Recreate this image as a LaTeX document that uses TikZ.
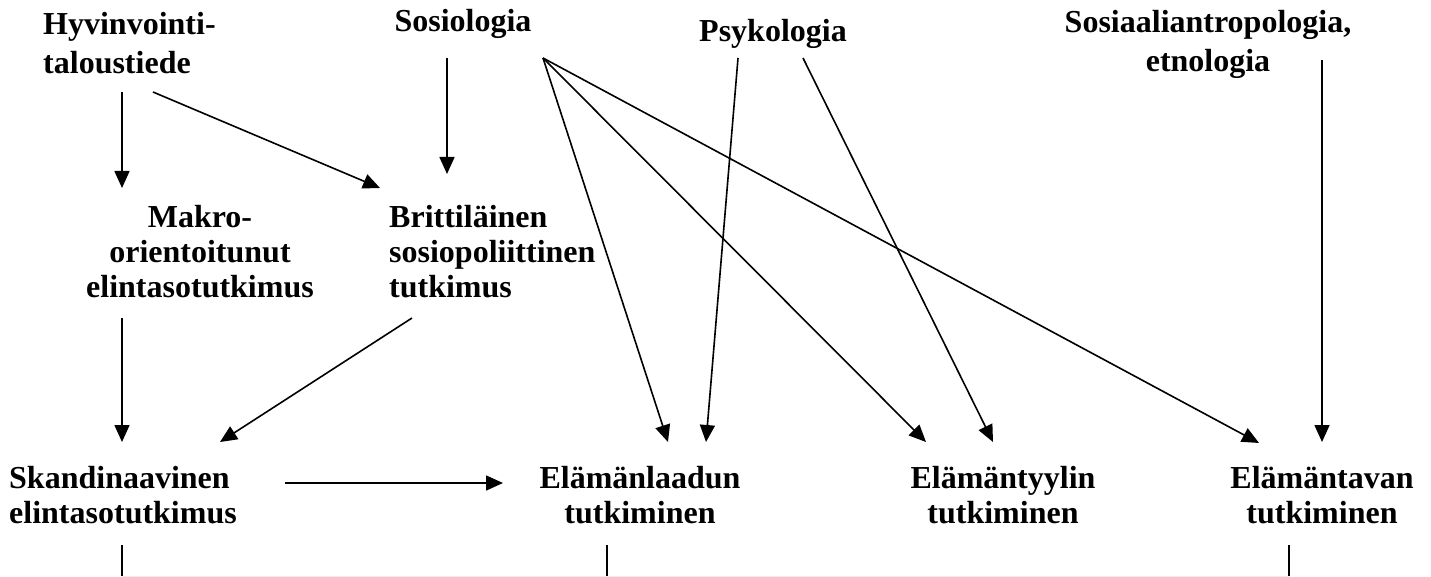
\documentclass[tikz,border=0pt]{standalone}
\usepackage{fontspec}
\setmainfont{Liberation Serif}
\usetikzlibrary{arrows.meta}
\begin{document}
\begin{tikzpicture}[x=1pt,y=-1pt,
  lbl/.style={font=\fontsize{32}{35}\selectfont\bfseries, inner sep=0pt, align=center},
  lbll/.style={lbl, align=left},
  arr/.style={line width=1.6pt, -{Triangle[length=17pt,width=15pt]}},
  ln/.style={line width=1.6pt}]
\useasboundingbox[fill=white] (0,0) rectangle (1431,577);
% nodes
\node[lbll, anchor=west] (hyv) at (43,43) {Hyvinvointi-\\[4pt]taloustiede};
\node[lbl] (sos) at (463,24) {Sosiologia};
\node[lbl] (psy) at (773,34) {Psykologia};
\node[lbl] (ant) at (1208,44) {Sosiaaliantropologia,\\[4pt]etnologia};
\node[lbl] (mak) at (200,252) {Makro-\\orientoitunut\\elintasotutkimus};
\node[lbll, anchor=west] (bri) at (389,252) {Brittiläinen\\sosiopoliittinen\\tutkimus};
\node[lbll, anchor=west] (ska) at (9,495) {Skandinaavinen\\elintasotutkimus};
\node[lbl] (ela) at (640,495) {Elämänlaadun\\tutkiminen};
\node[lbl] (ety) at (1003,495) {Elämäntyylin\\tutkiminen};
\node[lbl] (eta) at (1322,495) {Elämäntavan\\tutkiminen};
% connector end points
\coordinate (hyvA) at (122,92);  \coordinate (makT) at (122,188);
\coordinate (hyvB) at (153,92);  \coordinate (briT) at (380,188);
\coordinate (sosA) at (447,58);  \coordinate (briU) at (447,174);
\coordinate (sosB) at (543,58);
\coordinate (elaT) at (668,442); \coordinate (etyT) at (926,442); \coordinate (etaT) at (1259,443);
\coordinate (psyA) at (738,58);  \coordinate (elaU) at (706,442);
\coordinate (psyB) at (803,58);  \coordinate (etyU) at (993,442);
\coordinate (antA) at (1322,60); \coordinate (etaU) at (1322,442);
\coordinate (makA) at (122,318); \coordinate (skaT) at (122,442);
\coordinate (briA) at (412,318); \coordinate (skaU) at (220,442);
\coordinate (skaR) at (285,483); \coordinate (elaL) at (503,483);
\coordinate (skaB) at (122,545); \coordinate (skaE) at (122,576);
\coordinate (elaB) at (607,545); \coordinate (elaE) at (607,576);
\coordinate (etaB) at (1289,545); \coordinate (etaE) at (1289,576);
% connectors
\draw[arr] (hyvA) -- (makT);
\draw[arr] (hyvB) -- (briT);
\draw[arr] (sosA) -- (briU);
\draw[arr] (sosB) -- (elaT);
\draw[arr] (sosB) -- (etyT);
\draw[arr] (sosB) -- (etaT);
\draw[arr] (psyA) -- (elaU);
\draw[arr] (psyB) -- (etyU);
\draw[arr] (antA) -- (etaU);
\draw[arr] (makA) -- (skaT);
\draw[arr] (briA) -- (skaU);
\draw[arr] (skaR) -- (elaL);
\draw[ln] (skaB) -- (skaE);
\draw[ln] (elaB) -- (elaE);
\draw[ln] (etaB) -- (etaE);
\draw[line width=1pt, black!7] (skaE) -- (etaE);
\end{tikzpicture}
\end{document}
